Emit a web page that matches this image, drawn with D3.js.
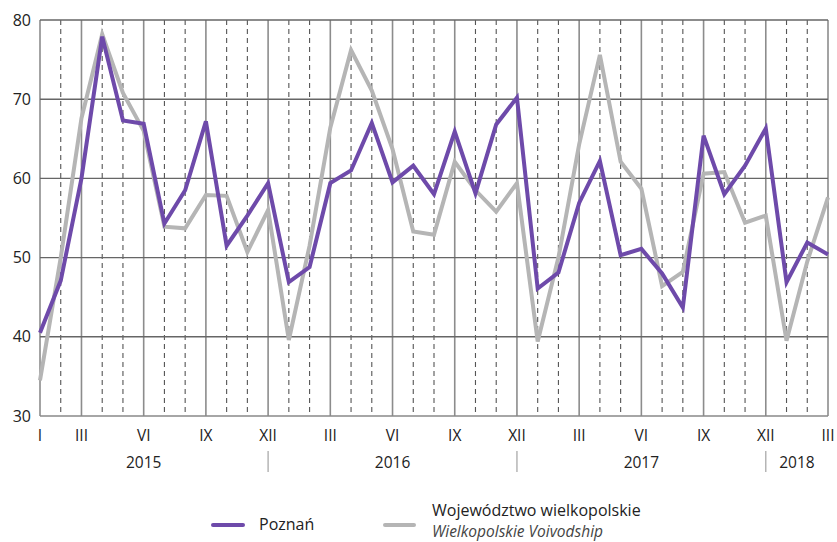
<!DOCTYPE html>
<html>
<head>
<meta charset="utf-8">
<script src="https://cdn.jsdelivr.net/npm/d3@7"></script>
<style>
  body { margin: 0; background: #fff; }
  text { font-family: "Open Sans", "Noto Sans", sans-serif; fill: #222; }
</style>
</head>
<body>
<div id="chart"></div>
<script>
// monthly values Jan 2015 .. Mar 2018
let poznan = [40.5, 47.1, 60, 77.9, 67.3, 66.9, 54.3, 58.5, 67.2, 51.5, 55.3, 59.4,
  46.9, 48.8, 59.4, 61, 67, 59.5, 61.6, 58, 65.9, 58.1, 66.8, 70.2,
  46.1, 48.1, 56.9, 62.2, 50.3, 51.1, 48, 43.7, 65.4, 58, 61.6, 66.3,
  46.9, 51.9, 50.4];
let wojewodztwo = [34.5, 50, 67.6, 78.2, 70.8, 66, 53.9, 53.7, 57.9, 57.8, 50.7, 56,
  39.6, 51.5, 66.4, 76.2, 71.1, 63.7, 53.3, 52.9, 62.1, 58.5, 55.8, 59.4,
  39.4, 50, 64.3, 75.6, 62.1, 58.7, 46.4, 48.2, 60.6, 60.8, 54.4, 55.3,
  39.5, 49.5, 57.6];

let monthLabels = ["I", "II", "III", "IV", "V", "VI", "VII", "VIII", "IX", "X", "XI", "XII"];
let shownMonths = [3, 6, 9, 12];
let years = [2015, 2016, 2017, 2018];
let yearCenters = [5, 17, 29, 36.5];   // month index where year label sits
let yearBreaks = [11, 23, 35];          // December indices
let yTicks = [30, 40, 50, 60, 70, 80];

let width = 837, height = 542;
let margin = {top: 20, right: 9, bottom: 126, left: 40};

let svg = d3.select("#chart").append("svg")
  .attr("width", width)
  .attr("height", height);

let n = poznan.length;

let x = d3.scaleLinear()
  .domain([0, n - 1])
  .range([margin.left, width - margin.right]);

let y = d3.scaleLinear()
  .domain([30, 80])
  .range([height - margin.bottom, margin.top]);

let grid = svg.append("g");

// vertical month lines: solid at quarter ends, dashed otherwise
d3.range(n).forEach(function(i) {
  let m = i % 12 + 1;
  let solid = (m % 3 == 0) || i == 0 || i == n - 1;
  grid.append("line")
    .attr("x1", x(i)).attr("x2", x(i))
    .attr("y1", y(80)).attr("y2", y(30))
    .attr("stroke", solid ? "#8c8c8c" : "#555")
    .attr("stroke-width", solid ? 1.6 : 1.1)
    .attr("stroke-dasharray", solid ? null : "5,4");
});

// horizontal grid
grid.selectAll(".hg")
  .data(yTicks)
  .enter().append("line")
  .attr("x1", x(0)).attr("x2", x(n - 1))
  .attr("y1", d => y(d)).attr("y2", d => y(d))
  .attr("stroke", d => d == 30 ? "#888" : "#666")
  .attr("stroke-width", 1.4);

// y labels
svg.selectAll(".yl")
  .data(yTicks)
  .enter().append("text")
  .attr("x", 31)
  .attr("y", d => y(d) + 5.5)
  .attr("text-anchor", "end")
  .style("font-size", "16px")
  .text(d => d);

// month labels (only first January is labelled)
svg.selectAll(".ml")
  .data(d3.range(n).filter(i => i == 0 || shownMonths.indexOf(i % 12 + 1) >= 0))
  .enter().append("text")
  .attr("x", d => x(d))
  .attr("y", 441)
  .attr("text-anchor", "middle")
  .style("font-size", "15.5px")
  .text(d => monthLabels[d % 12]);

// year labels and separators
svg.selectAll(".yr")
  .data(years)
  .enter().append("text")
  .attr("x", (d, i) => x(yearCenters[i]))
  .attr("y", 468)
  .attr("text-anchor", "middle")
  .style("font-size", "15.5px")
  .text(d => d);

svg.selectAll(".ysep")
  .data(yearBreaks)
  .enter().append("line")
  .attr("x1", d => x(d)).attr("x2", d => x(d))
  .attr("y1", 451).attr("y2", 472)
  .attr("stroke", "#aaa")
  .attr("stroke-width", 1.3);

let line = d3.line()
  .x((d, i) => x(i))
  .y(d => y(d));

svg.append("path")
  .datum(wojewodztwo)
  .attr("d", line)
  .attr("fill", "none")
  .attr("stroke", "#b5b5b5")
  .attr("stroke-width", 4)
  .attr("stroke-linejoin", "miter");

svg.append("path")
  .datum(poznan)
  .attr("d", line)
  .attr("fill", "none")
  .attr("stroke", "#6e4aaa")
  .attr("stroke-width", 4)
  .attr("stroke-linejoin", "miter");

// legend
let lg = svg.append("g");
lg.append("line")
  .attr("x1", 213).attr("x2", 243).attr("y1", 525).attr("y2", 525)
  .attr("stroke", "#6e4aaa").attr("stroke-width", 4).attr("stroke-linecap", "round");
lg.append("text")
  .attr("x", 259).attr("y", 530)
  .style("font-size", "16px")
  .text("Poznań");
lg.append("line")
  .attr("x1", 385).attr("x2", 414).attr("y1", 525).attr("y2", 525)
  .attr("stroke", "#b5b5b5").attr("stroke-width", 4).attr("stroke-linecap", "round");
lg.append("text")
  .attr("x", 432).attr("y", 516)
  .style("font-size", "16px")
  .text("Województwo wielkopolskie");
lg.append("text")
  .attr("x", 432).attr("y", 537)
  .style("font-size", "15.5px")
  .style("font-style", "italic")
  .style("fill", "#444")
  .text("Wielkopolskie Voivodship");
</script>
</body>
</html>
